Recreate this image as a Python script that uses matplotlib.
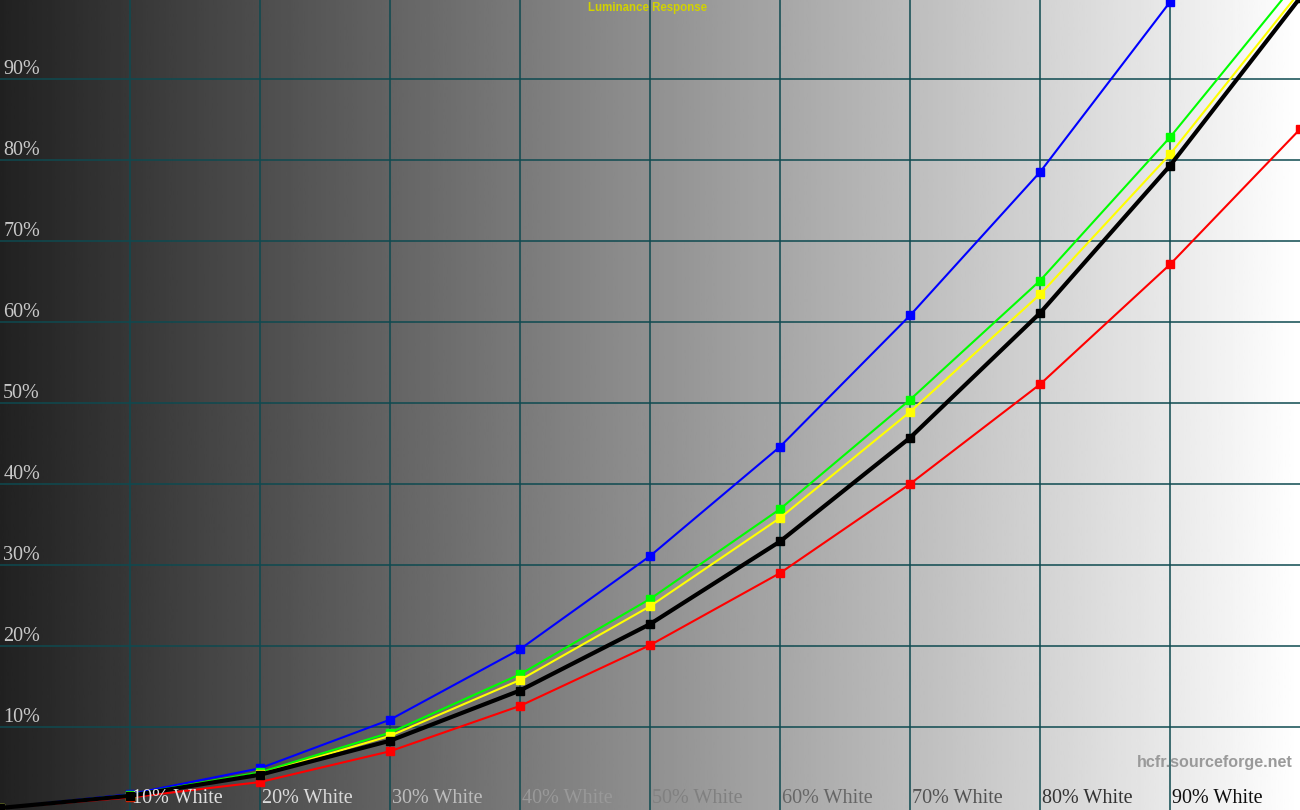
import numpy as np
import matplotlib
matplotlib.use("Agg")
import matplotlib.pyplot as plt

# stimulus levels (% white) and measured luminance (%) per channel
levels = [0, 10, 20, 30, 40, 50, 60, 70, 80, 90, 100]
lum_red = [0, 1.3, 3.2, 7.0, 12.6, 20.1, 29.0, 40.0, 52.3, 67.1, 83.8]
lum_green = [0, 1.6, 4.4, 9.3, 16.5, 25.8, 36.9, 50.4, 65.1, 82.8, 102.5]
lum_blue = [0, 1.7, 4.9, 10.9, 19.6, 31.1, 44.6, 60.8, 78.5, 99.5, 122.0]
lum_yellow = [0, 1.5, 4.2, 8.9, 15.8, 24.9, 35.8, 48.9, 63.4, 80.7, 100.8]
lum_black = [0, 1.5, 4.1, 8.3, 14.5, 22.7, 32.9, 45.7, 61.1, 79.3, 100.0]

x_ticks = [10, 20, 30, 40, 50, 60, 70, 80, 90]
x_labels = ["10% White", "20% White", "30% White", "40% White", "50% White",
            "60% White", "70% White", "80% White", "90% White"]
x_label_grey = [0.88, 0.86, 0.74, 0.6, 0.5, 0.4, 0.32, 0.2, 0.06]
y_ticks = [10, 20, 30, 40, 50, 60, 70, 80, 90]
y_labels = ["10%", "20%", "30%", "40%", "50%", "60%", "70%", "80%", "90%"]

fig = plt.figure(figsize=(13, 8.1), dpi=100)
ax = fig.add_axes([0, 0, 1, 1])
ax.set_xlim(0, 100)
ax.set_ylim(-0.25, 99.75)

# grey ramp background, dark on the left to white on the right
ramp = np.linspace(0.13, 1.0, 512).reshape(1, -1)
ax.imshow(ramp, cmap="gray", vmin=0, vmax=1, aspect="auto",
          extent=[0, 100, -0.25, 99.75], zorder=0)

grid_col = "#0e4a50"
for v in x_ticks:
    ax.axvline(v, color=grid_col, lw=1.1, zorder=1)
for v in y_ticks:
    ax.axhline(v, color=grid_col, lw=1.1, zorder=1)

ax.plot(levels, lum_blue, color="#0000ff", lw=1.5, marker="s", ms=6, zorder=3)
ax.plot(levels, lum_red, color="#ff0000", lw=1.5, marker="s", ms=6, zorder=3)
ax.plot(levels, lum_green, color="#00ff00", lw=1.5, marker="s", ms=6, zorder=3)
ax.plot(levels, lum_yellow, color="#ffff00", lw=1.5, marker="s", ms=6, zorder=4)
ax.plot(levels, lum_black, color="#000000", lw=3, marker="s", ms=6, zorder=5)

serif = ["Liberation Serif", "DejaVu Serif"]
for v, lab in zip(y_ticks, y_labels):
    ax.text(0.25, v + 0.05, lab, color="#c8c8c8", fontsize=14.5, family=serif,
            ha="left", va="bottom", zorder=6)
for v, lab, g in zip(x_ticks, x_labels, x_label_grey):
    ax.text(v + 0.15, 0.05, lab, color=str(g), fontsize=14.5, family=serif,
            ha="left", va="bottom", zorder=6)

ax.text(49.8, 99.45, "Luminance Response", color="#d2d200", fontsize=8.3,
        fontweight="bold", family=["Liberation Sans", "DejaVu Sans"],
        ha="center", va="top", zorder=6)
ax.text(99.45, 5.6, "hcfr.sourceforge.net", color="#9a9a9a", fontsize=11.6,
        fontweight="bold", family=["Liberation Sans", "DejaVu Sans"],
        ha="right", va="center", zorder=6)

ax.set_axis_off()
fig.savefig("out.png", dpi=100)
